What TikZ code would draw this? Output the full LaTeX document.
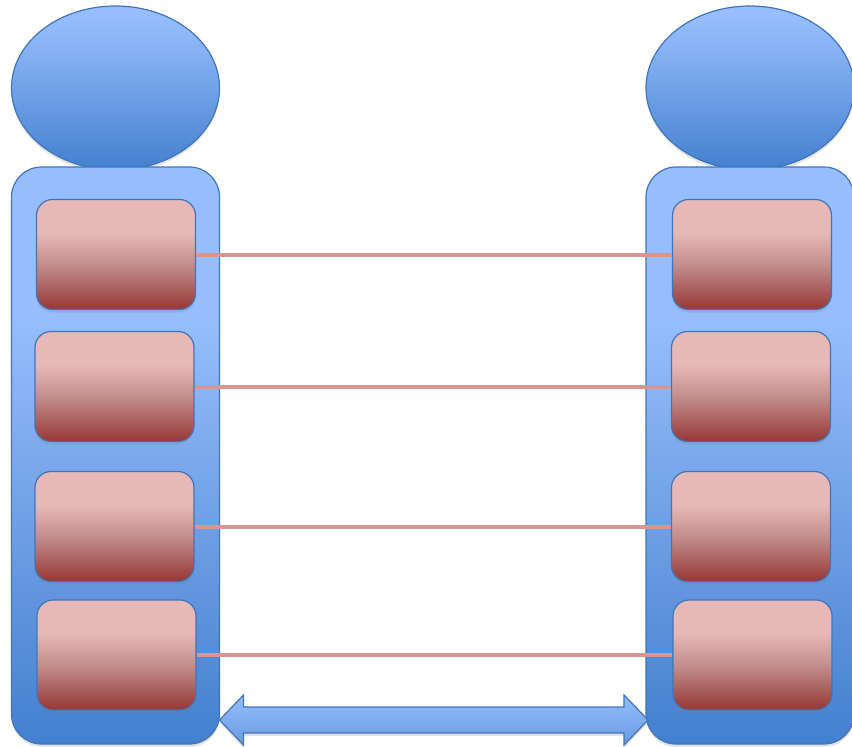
\documentclass[tikz,border=0pt]{standalone}
\usetikzlibrary{shapes.geometric,shadows}
\definecolor{bluetop}{HTML}{96BEFC}
\definecolor{bluemid}{HTML}{78A6EA}
\definecolor{bluebot}{HTML}{4380CF}
\definecolor{blueline}{HTML}{4275B7}
\definecolor{redtop}{HTML}{E6B9B8}
\definecolor{redmid}{HTML}{C28C8B}
\definecolor{redbot}{HTML}{953735}
\definecolor{linkcol}{HTML}{D89693}
% vertical gradients that stay light through the upper part
\pgfdeclareverticalshading{bluefade}{100bp}{color(0bp)=(bluebot); color(25bp)=(bluebot);
  color(48bp)=(bluemid); color(62bp)=(bluetop); color(75bp)=(bluetop); color(100bp)=(bluetop)}
\pgfdeclareverticalshading{headfade}{100bp}{color(0bp)=(bluebot); color(25bp)=(bluebot);
  color(60bp)=(bluemid!60!bluetop); color(72bp)=(bluetop); color(100bp)=(bluetop)}
\pgfdeclareverticalshading{redfade}{100bp}{color(0bp)=(redbot); color(25bp)=(redbot);
  color(45bp)=(redmid); color(60bp)=(redtop); color(75bp)=(redtop); color(100bp)=(redtop)}
\tikzset{
  softshadow/.style={drop shadow={opacity=0.22,shadow xshift=0pt,shadow yshift=-3pt}},
  headshape/.style={ellipse,draw=blueline,line width=1.2pt,shading=headfade,
    minimum width=208pt,minimum height=164pt,inner sep=0pt,softshadow},
  column/.style={rectangle,rounded corners=30pt,draw=blueline,line width=1.2pt,
    shading=bluefade,minimum width=208pt,minimum height=577pt,inner sep=0pt,softshadow},
  cell/.style={rectangle,rounded corners=16pt,draw=blueline,line width=1.2pt,
    shading=redfade,minimum width=159pt,minimum height=110pt,inner sep=0pt,softshadow},
  link/.style={draw=linkcol,line width=4pt,drop shadow={opacity=0.15,shadow xshift=0pt,shadow yshift=-2pt}},
  bigarrow/.style={draw=blueline,line width=1.2pt,top color=bluetop,bottom color=bluemid!70!bluebot,softshadow}
}
\begin{document}
\begin{tikzpicture}[x=1pt,y=-1pt]
\useasboundingbox (0,0) rectangle (852,747);
% heads
\node[headshape] (lhead) at (115.5,88) {};
\node[headshape] (rhead) at (750,88) {};
% columns
\node[column] (lcol) at (115.5,455.5) {};
\node[column] (rcol) at (750,455.5) {};
% cells on the left column
\node[cell] (l1) at (116,254.5) {};
\node[cell] (l2) at (114.5,386.5) {};
\node[cell] (l3) at (114.5,526.5) {};
\node[cell] (l4) at (116.5,655) {};
% cells on the right column
\node[cell] (r1) at (752,254.5) {};
\node[cell] (r2) at (751,386.5) {};
\node[cell] (r3) at (751,526.5) {};
\node[cell] (r4) at (752.5,655) {};
% links between matching cells
\path[link] (l1.east) -- (r1.west);
\path[link] (l2.east) -- (r2.west);
\path[link] (l3.east) -- (r3.west);
\path[link] (l4.east) -- (r4.west);
% double-headed arrow between the columns
\coordinate (aL) at (219.5,720);
\coordinate (aR) at (648,720);
\path[bigarrow] (aL) -- ++(24,-25) -- ++(0,12) -- (624,707) -- ++(0,-12) -- (aR)
  -- (624,745) -- ++(0,-12) -- (243.5,733) -- ++(0,12) -- cycle;
\end{tikzpicture}
\end{document}
